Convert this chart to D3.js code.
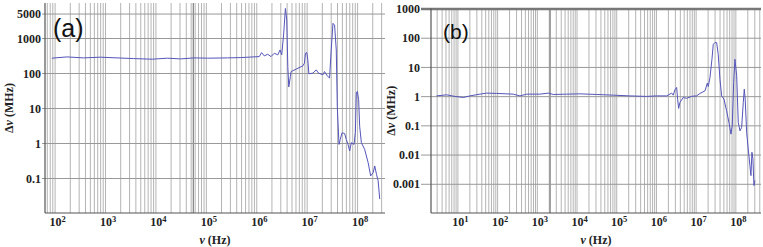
<!doctype html>
<html>
<head>
<meta charset="utf-8">
<script src="https://cdnjs.cloudflare.com/ajax/libs/d3/7.8.5/d3.min.js"></script>
<style>
  body { margin: 0; background: #fff; }
  svg { display: block; }
  .tick text { font-family: "Liberation Serif", serif; font-weight: bold; font-size: 12px; fill: #222; }
  .title { font-family: "Liberation Serif", serif; font-weight: bold; font-size: 12px; fill: #222; }
  .tag { font-family: "Liberation Sans", Arial, sans-serif; fill: #111; }
</style>
</head>
<body>
<svg id="chart" width="763" height="247"></svg>
<script>
// panel (a) data
var freqA = [86, 171, 366, 787, 1690, 3630, 8430, 16800, 30900, 56900,
  105000, 263000, 484000, 1.12e6, 1.25e6, 1.41e6, 1.65e6, 1.92e6, 2.23e6, 2.61e6,
  2.9e6, 3.13e6, 3.43e6, 3.7e6, 3.94e6, 4.13e6, 4.32e6, 4.65e6, 4.8e6, 6.04e6,
  8.2e6, 8.83e6, 9.25e6, 9.86e6, 1.03e7, 1.08e7, 1.3e7, 1.51e7, 1.68e7, 2.06e7,
  2.21e7, 2.5e7, 2.78e7, 3.0e7, 3.25e7, 3.5e7, 3.78e7, 3.96e7, 4.28e7, 4.54e7,
  4.91e7, 5.53e7, 5.98e7, 6.47e7, 6.97e7, 7.52e7, 8.51e7, 9.04e7, 9.46e7, 9.91e7,
  1.05e8, 1.1e8, 1.19e8, 1.38e8, 1.62e8, 1.82e8, 2.04e8, 2.19e8, 2.37e8, 2.56e8, 2.75e8];
var dnuA = [265, 288, 270, 283, 270, 258, 248, 265, 253, 270,
  265, 270, 276, 294, 382, 308, 344, 294, 367, 329,
  456, 329, 1390, 6980, 3240, 153, 40, 79, 110, 129,
  160, 191, 367, 382, 237, 95, 99, 123, 99, 89,
  110, 83, 72, 456, 2620, 2340, 456, 11.2, 0.91, 1.26,
  1.96, 1.87, 1.26, 0.91, 0.59, 1.02, 0.91, 2.0, 26.9, 29.8,
  17.3, 3.0, 1.02, 0.66, 0.275, 0.115, 0.143, 0.221, 0.128, 0.083, 0.025];

// panel (b) data
var freqB = [2.9, 5.2, 8.4, 13.6, 20, 35.8, 52.8, 94, 247, 365,
  537, 1160, 1880, 2520, 5470, 11800, 31200, 81700, 215000, 566000,
  1.01e6, 1.81e6, 2.42e6, 2.65e6, 2.92e6, 3.23e6, 3.42e6, 3.62e6, 3.91e6, 4.73e6,
  5.77e6, 7.71e6, 1.03e7, 1.25e7, 1.67e7, 1.91e7, 2.02e7, 2.23e7, 2.5e7, 2.7e7,
  2.98e7, 3.28e7, 3.6e7, 3.98e7, 4.38e7, 5.01e7, 5.86e7, 6.82e7, 7.53e7, 8.11e7,
  8.81e7, 9.49e7, 1.05e8, 1.15e8, 1.27e8, 1.4e8, 1.54e8, 1.63e8, 1.72e8, 1.87e8,
  2.05e8, 2.26e8, 2.4e8, 2.54e8, 2.69e8, 2.86e8, 3.03e8];
var dnuB = [1.02, 1.11, 0.98, 0.9, 1.02, 1.17, 1.27, 1.24, 1.17, 1.02,
  1.17, 1.17, 1.27, 1.14, 1.17, 1.2, 1.14, 1.08, 1.02, 0.98,
  1.02, 1.02, 1.27, 1.08, 1.64, 1.98, 0.79, 0.38, 0.61, 0.9,
  0.84, 0.99, 1.02, 1.24, 1.52, 2.78, 2.14, 4.35, 18.3, 59.5,
  68, 68, 27.1, 3.8, 1.02, 0.79, 0.315, 0.111, 0.05, 0.097,
  2.94, 18.3, 4.93, 0.127, 0.065, 0.085, 0.61, 1.73, 0.79, 0.058,
  0.0155, 0.0042, 0.0019, 0.012, 0.0071, 0.00087, 0.0013];

// axis ranges and ticks
var xDomainA = [63, 3.5e8], yDomainA = [0.01, 10000];
var xDomainB = [2.1, 4.3e8], yDomainB = [1e-4, 1000];
var xTicksA = [1e2, 1e3, 1e4, 1e5, 1e6, 1e7, 1e8];
var xTicksB = [1e1, 1e2, 1e3, 1e4, 1e5, 1e6, 1e7, 1e8];
var yTicksA = [0.1, 1, 10, 100, 1000, 5000];
var yTicksB = [0.001, 0.01, 0.1, 1, 10, 100, 1000];
var yLabelsA = ["0.1", "1", "10", "100", "1000", "5000"];
var yLabelsB = ["0.001", "0.01", "0.1", "1", "10", "100", "1000"];
var darkLineA = [5.5e4], darkLineB = [2.1e3];

var svg = d3.select("#chart");
var lineColor = "#5555bb";

function panel(opt) {
  var x = d3.scaleLog().domain(opt.xDomain).range([opt.left, opt.right]);
  var y = d3.scaleLog().domain(opt.yDomain).range([opt.bottom, opt.top]);
  var g = svg.append("g");

  // minor vertical grid: 1..9 x 10^k
  var grid = [];
  var lo = Math.floor(Math.log10(opt.xDomain[0])), hi = Math.ceil(Math.log10(opt.xDomain[1]));
  for (var k = lo; k <= hi; k++)
    for (var m = 1; m < 10; m++) {
      var v = m * Math.pow(10, k);
      if (v > opt.xDomain[0] && v < opt.xDomain[1]) grid.push(v);
    }
  g.selectAll(".vg").data(grid).enter().append("line")
    .attr("x1", d => x(d)).attr("x2", d => x(d))
    .attr("y1", opt.top).attr("y2", opt.bottom)
    .style("stroke", "#b4b4b4").style("stroke-width", 1);
  g.selectAll(".dk").data(opt.dark).enter().append("line")
    .attr("x1", d => x(d)).attr("x2", d => x(d))
    .attr("y1", opt.top).attr("y2", opt.bottom)
    .style("stroke", "#666").style("stroke-width", 1);

  // y axis with gridlines across
  var yAxis = d3.axisLeft(y).tickValues(opt.yTicks)
    .tickSize(-(opt.right - opt.left))
    .tickFormat((d, i) => opt.yLabels[i]);
  var ya = g.append("g").attr("transform", "translate(" + opt.left + ",0)").call(yAxis);
  ya.select(".domain").remove();
  ya.selectAll(".tick line").style("stroke", "#999").attr("x1", -opt.tickLen);
  ya.selectAll(".tick text").attr("x", -opt.tickLen - 1).attr("dy", "0.35em");
  if (opt.thickTop) {
    ya.selectAll(".tick").filter(d => d === opt.yDomain[1]).select("line")
      .style("stroke", "#777").style("stroke-width", 2.5);
  }

  // x axis, labels as 10^k
  var xAxis = d3.axisBottom(x).tickValues(opt.xTicks).tickSize(0).tickFormat(() => "");
  var xa = g.append("g").attr("transform", "translate(0," + opt.bottom + ")").call(xAxis);
  xa.select(".domain").remove();
  xa.selectAll(".tick text").each(function(d) {
    var t = d3.select(this).attr("y", 13).attr("dy", null).attr("x", 2);
    t.append("tspan").text("10");
    t.append("tspan").attr("dy", -4).style("font-size", "8.5px").text(Math.round(Math.log10(d)));
  });

  // axis lines (left and bottom)
  g.append("line").attr("x1", opt.left).attr("x2", opt.left)
    .attr("y1", opt.top).attr("y2", opt.bottom).style("stroke", "#555").style("stroke-width", 1.2);
  g.append("line").attr("x1", opt.left).attr("x2", opt.right)
    .attr("y1", opt.bottom).attr("y2", opt.bottom).style("stroke", "#555").style("stroke-width", 1.2);

  // data line
  var pts = opt.freq.map((f, i) => [f, opt.dnu[i]]);
  g.append("path").datum(pts)
    .attr("d", d3.line().x(d => x(d[0])).y(d => y(d[1])))
    .style("fill", "none").style("stroke", lineColor).style("stroke-width", 1);

  // titles
  var xt = g.append("text").attr("class", "title").attr("text-anchor", "middle")
    .attr("x", (opt.left + opt.right) / 2).attr("y", 244);
  xt.append("tspan").style("font-style", "italic").text("ν");
  xt.append("tspan").text(" (Hz)");
  var yt = g.append("text").attr("class", "title").attr("text-anchor", "middle")
    .attr("transform", "translate(" + opt.ytX + "," + (opt.top + opt.bottom) / 2 + ") rotate(-90)");
  yt.append("tspan").text("Δ");
  yt.append("tspan").style("font-style", "italic").text("ν");
  yt.append("tspan").text(" (MHz)");

  g.append("text").attr("class", "tag").attr("x", opt.tagX).attr("y", opt.tagY)
    .style("font-size", opt.tagSize + "px").text(opt.tag);
}

panel({ freq: freqA, dnu: dnuA, xDomain: xDomainA, yDomain: yDomainA,
  xTicks: xTicksA, yTicks: yTicksA, yLabels: yLabelsA, dark: darkLineA,
  left: 45, right: 385, top: 3, bottom: 213, tickLen: 3, ytX: 13,
  tag: "(a)", tagX: 53, tagY: 37, tagSize: 25 });

panel({ freq: freqB, dnu: dnuB, xDomain: xDomainB, yDomain: yDomainB,
  xTicks: xTicksB, yTicks: yTicksB, yLabels: yLabelsB, dark: darkLineB, thickTop: true,
  left: 431, right: 761, top: 8.5, bottom: 213, tickLen: 10, ytX: 395,
  tag: "(b)", tagX: 443, tagY: 39, tagSize: 21 });
</script>
</body>
</html>
